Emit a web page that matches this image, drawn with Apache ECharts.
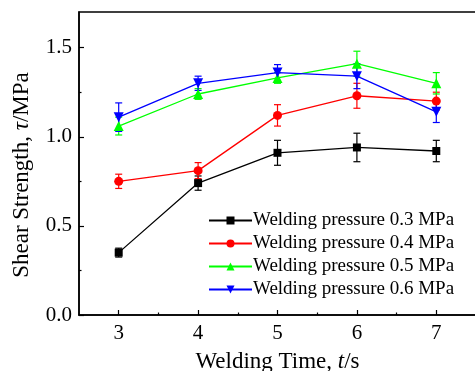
<!DOCTYPE html>
<html>
<head>
<meta charset="utf-8">
<script src="https://cdn.jsdelivr.net/npm/echarts@6/dist/echarts.min.js"></script>
<style>
  html, body { margin: 0; padding: 0; background: #fff; }
  #main { width: 475px; height: 371px; }
</style>
</head>
<body>
<div id="main"></div>
<script>
// 焊接时间 (s)
var times = [3, 4, 5, 6, 7];
var names = ['Welding pressure 0.3 MPa', 'Welding pressure 0.4 MPa', 'Welding pressure 0.5 MPa', 'Welding pressure 0.6 MPa'];
var colors = ['#000000', '#ff0000', '#00ff00', '#0000ff'];
var symbols = ['rect', 'circle', 'triangle', 'triangle'];
var rotates = [0, 0, 0, 180];

// 剪切强度均值和误差
var p03 = [0.35, 0.74, 0.91, 0.94, 0.92];
var e03 = [0.025, 0.04, 0.07, 0.08, 0.06];
var p04 = [0.75, 0.81, 1.12, 1.23, 1.20];
var e04 = [0.04, 0.045, 0.06, 0.07, 0.05];
var p05 = [1.06, 1.24, 1.33, 1.41, 1.30];
var e05 = [0.05, 0.03, 0.03, 0.07, 0.06];
var p06 = [1.11, 1.30, 1.36, 1.34, 1.14];
var e06 = [0.08, 0.04, 0.045, 0.07, 0.06];

var means = [p03, p04, p05, p06];
var errs = [e03, e04, e05, e06];

var font = 'Liberation Serif';

function errorBar(color) {
    return function (params, api) {
        var x = api.value(0);
        var top = api.coord([x, api.value(2)]);
        var bot = api.coord([x, api.value(1)]);
        var cap = 3.5;
        var st = { stroke: color, lineWidth: 1.2 };
        return {
            type: 'group',
            children: [
                { type: 'line', shape: { x1: top[0], y1: top[1], x2: bot[0], y2: bot[1] }, style: st },
                { type: 'line', shape: { x1: top[0] - cap, y1: top[1], x2: top[0] + cap, y2: top[1] }, style: st },
                { type: 'line', shape: { x1: bot[0] - cap, y1: bot[1], x2: bot[0] + cap, y2: bot[1] }, style: st }
            ]
        };
    };
}

var series = [];
for (var i = 0; i < 4; i++) {
    series.push({
        type: 'custom',
        name: 'err' + i,
        renderItem: errorBar(colors[i]),
        data: times.map(function (t, j) { return [t, means[i][j] - errs[i][j], means[i][j] + errs[i][j]]; }),
        encode: { x: 0, y: [1, 2] },
        z: 2,
        silent: true
    });
}
for (var i = 0; i < 4; i++) {
    series.push({
        type: 'line',
        name: names[i],
        data: times.map(function (t, j) { return [t, means[i][j]]; }),
        symbol: symbols[i],
        symbolRotate: rotates[i],
        symbolSize: i == 0 ? 8 : (i == 1 ? 9 : 10),
        color: colors[i],
        lineStyle: { color: colors[i], width: 1.3 },
        itemStyle: { color: colors[i] },
        z: 3
    });
}

var myChart = echarts.init(document.getElementById('main'));
var option = {
    animation: false,
    backgroundColor: '#fff',
    grid: {
        left: 79, right: -1, top: 12, bottom: 56,
        outerBoundsMode: 'none',
        show: true, borderColor: '#000', borderWidth: 1.5, backgroundColor: 'transparent'
    },
    legend: {
        data: names,
        orient: 'vertical',
        left: 203,
        top: 206,
        itemWidth: 43,
        itemHeight: 10,
        itemGap: 4,
        textStyle: { fontFamily: font, fontSize: 19, color: '#000', padding: [0, 0, 0, -4] }
    },
    xAxis: [{
        type: 'value',
        min: 2.5,
        max: 7.5,
        name: '{a|Welding Time, }{i|t}{a|/s}',
        nameLocation: 'middle',
        nameGap: 35,
        nameTextStyle: {
            rich: {
                a: { fontFamily: font, fontSize: 23, color: '#000' },
                i: { fontFamily: font, fontSize: 23, fontStyle: 'italic', color: '#000' }
            }
        },
        axisLine: { lineStyle: { color: '#000', width: 1.5 } },
        axisTick: { inside: true, length: 5, lineStyle: { color: '#000', width: 1.2 }, customValues: times },
        axisLabel: { fontFamily: font, fontSize: 21, color: '#000', margin: 8, customValues: times },
        splitLine: { show: false }
    }, {
        type: 'value',
        min: 2.5,
        max: 7.5,
        position: 'bottom',
        axisLine: { show: false },
        axisTick: { inside: true, length: 2.5, lineStyle: { color: '#000', width: 1.2 }, customValues: [3.5, 4.5, 5.5, 6.5] },
        axisLabel: { show: false },
        splitLine: { show: false }
    }],
    yAxis: [{
        type: 'value',
        min: 0,
        max: 1.7,
        name: '{a|Shear Strength, }{i|τ}{a|/MPa}',
        nameLocation: 'middle',
        nameGap: 46,
        nameTextStyle: {
            padding: [0, 23, 0, 0],
            rich: {
                a: { fontFamily: font, fontSize: 23, color: '#000' },
                i: { fontFamily: font, fontSize: 23, fontStyle: 'italic', color: '#000' }
            }
        },
        axisLine: { show: true, lineStyle: { color: '#000', width: 1.5 } },
        axisTick: { show: true, inside: true, length: 5, lineStyle: { color: '#000', width: 1.2 }, customValues: [0, 0.5, 1.0, 1.5] },
        axisLabel: {
            fontFamily: font, fontSize: 21, color: '#000', margin: 7,
            customValues: [0, 0.5, 1.0, 1.5],
            formatter: function (v) { return v.toFixed(1); }
        },
        splitLine: { show: false }
    }, {
        type: 'value',
        min: 0,
        max: 1.7,
        position: 'left',
        axisLine: { show: false },
        axisTick: { show: true, inside: true, length: 2.5, lineStyle: { color: '#000', width: 1.2 }, customValues: [0.25, 0.75, 1.25] },
        axisLabel: { show: false },
        splitLine: { show: false }
    }],
    series: series
};
myChart.setOption(option);
</script>
</body>
</html>
